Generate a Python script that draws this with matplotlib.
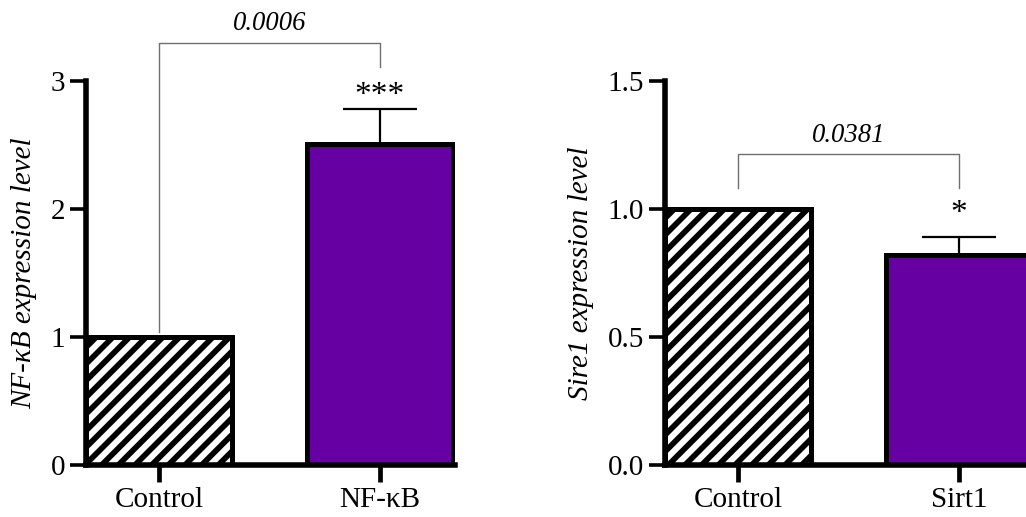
import matplotlib
matplotlib.use("Agg")
import matplotlib.pyplot as plt
from matplotlib.ticker import FormatStrFormatter

# ---- data ----
left_categories = ["Control", "NF-κB"]
left_values = [1.0, 2.51]
left_err = [0.0, 0.27]
left_ylabel = "NF-κB expression level"
left_ticks = [0, 1, 2, 3]
left_p = "0.0006"
left_stars = "***"

right_categories = ["Control", "Sirt1"]
right_values = [1.0, 0.82]
right_err = [0.0, 0.072]
right_ylabel = "Sire1 expression level"
right_ticks = [0.0, 0.5, 1.0, 1.5]
right_p = "0.0381"
right_stars = "*"

PURPLE = "#6600A3"
plt.rcParams["font.family"] = ["Liberation Serif", "DejaVu Serif"]
plt.rcParams["hatch.linewidth"] = 4.1

DPI = 100
fig = plt.figure(figsize=(1026 / DPI, 517 / DPI), dpi=DPI)

W, H = 1026.0, 517.0
ax_w = 369 / W
ax_h = 384 / H
ax_b = 52 / H
axL = fig.add_axes([86 / W, ax_b, ax_w, ax_h])
axR = fig.add_axes([665 / W, ax_b, ax_w, ax_h])


def draw(ax, cats, vals, errs, ylim, ticks, fmt, ylabel,
         br_y, br_l, br_r, p_y, p_text, star_y, star_text, star_size):
    x = list(range(len(cats)))
    bw = 0.66
    # control bar: hatched white
    ax.bar(x[0], vals[0], width=bw, facecolor="white", edgecolor="black",
           linewidth=3.6, hatch="//", zorder=2)
    ax.bar(x[1], vals[1], width=bw, facecolor=PURPLE, edgecolor="black",
           linewidth=3.6, zorder=2)
    ax.errorbar(x[1], vals[1], yerr=[[0], [errs[1]]], fmt="none",
                ecolor="black", elinewidth=1.6, capsize=26.4, capthick=1.6,
                zorder=1)
    ax.set_xlim(-0.33, 1.34)
    ax.set_ylim(*ylim)
    ax.set_yticks(ticks)
    ax.yaxis.set_major_formatter(FormatStrFormatter(fmt))
    ax.set_xticks(x)
    ax.set_xticklabels(cats)
    for s in ["top", "right"]:
        ax.spines[s].set_visible(False)
    for s in ["left", "bottom"]:
        ax.spines[s].set_linewidth(4.0)
    ax.tick_params(axis="y", length=11.5, width=2.6, pad=3.6, labelsize=21)
    ax.tick_params(axis="x", length=12, width=3.4, pad=3.6, labelsize=21)
    ax.set_ylabel(ylabel, fontsize=21, style="italic", labelpad=9.6)
    # bracket
    ax.plot([x[0], x[0], x[1], x[1]], [br_l, br_y, br_y, br_r],
            color="#707070", linewidth=1.0, clip_on=False, zorder=3)
    ax.text(0.5, p_y, p_text, ha="center", va="baseline", style="italic",
            fontsize=19.2, clip_on=False)
    ax.text(x[1], star_y, star_text, ha="center", va="baseline",
            fontsize=star_size, clip_on=False)


draw(axL, left_categories, left_values, left_err, (0, 3), left_ticks, "%d",
     left_ylabel, 3.297, 1.04, 3.11, 3.40, left_p, 2.82, left_stars, 24)
draw(axR, right_categories, right_values, right_err, (0, 1.5), right_ticks,
     "%.1f", right_ylabel, 1.215, 1.082, 1.082, 1.262, right_p, 0.95,
     right_stars, 24)

fig.savefig("out.png", dpi=DPI)
